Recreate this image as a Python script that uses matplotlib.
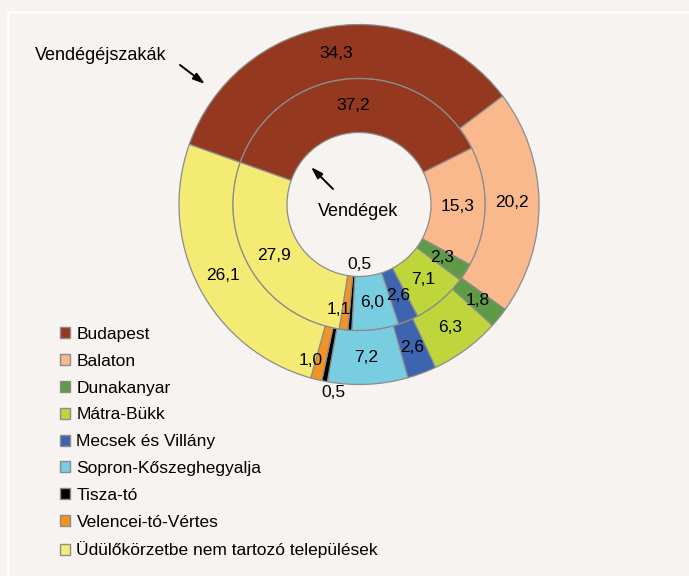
import matplotlib
matplotlib.use('Agg')
import matplotlib.pyplot as plt
from matplotlib.patches import Rectangle, Patch
import numpy as np

plt.rcParams['font.family'] = ['Liberation Sans', 'DejaVu Sans']

regions = ['Budapest', 'Balaton', 'Dunakanyar', 'Mátra-Bükk', 'Mecsek és Villány',
           'Sopron-Kőszeghegyalja', 'Tisza-tó', 'Velencei-tó-Vértes',
           'Üdülőkörzetbe nem tartozó települések']
nights = [34.3, 20.2, 1.8, 6.3, 2.6, 7.2, 0.5, 1.0, 26.1]   # Vendégéjszakák (outer)
guests = [37.2, 15.3, 2.3, 7.1, 2.6, 6.0, 0.5, 1.1, 27.9]   # Vendégek (inner)
colors = ['#953820', '#FAB98C', '#5F9B46', '#BED63C', '#3C64AF',
          '#78CDE1', '#000000', '#F39324', '#F3EB73']

BG = '#F6F3F0'
W, H = 689, 576
fig = plt.figure(figsize=(6.89, 5.76), dpi=100)
fig.patch.set_facecolor(BG)
ax = fig.add_axes([0, 0, 1, 1])

cx, cy = 359, H - 204.5
R_out, R_mid, R_in = 180, 126, 72
START = 160.5
wp = dict(edgecolor='#8c8c8c', linewidth=0.9)
ax.pie(nights, radius=R_out, center=(cx, cy), startangle=START, counterclock=False,
       colors=colors, wedgeprops=dict(width=R_out - R_mid, **wp))
ax.pie(guests, radius=R_mid, center=(cx, cy), startangle=START, counterclock=False,
       colors=colors, wedgeprops=dict(width=R_mid - R_in, **wp))
ax.set_xlim(0, W)
ax.set_ylim(0, H)
ax.set_axis_off()

FS = 12.5

def add_labels(vals, r_lab, overrides):
    cum = np.cumsum([0] + vals)
    for i, v in enumerate(vals):
        mid = (cum[i] + cum[i + 1]) / 2
        ang = np.deg2rad(START - 360 * mid / 100)
        r, dx, dy = overrides.get(i, (r_lab, 0, 0))
        x = cx + r * np.cos(ang) + dx
        y = cy + r * np.sin(ang) + dy
        ax.text(x, y, f'{v:.1f}'.replace('.', ','), ha='center', va='center',
                fontsize=FS, color='black', zorder=5)

add_labels(nights, (R_out + R_mid) / 2, {6: (190, 11, -2), 7: (153, -12, -7)})
add_labels(guests, (R_mid + R_in) / 2, {6: (60, 5, 0), 7: (99, -8, -7)})

ax.text(35, H - 55, 'Vendégéjszakák', ha='left', va='center', fontsize=13)
ax.text(358, H - 212, 'Vendégek', ha='center', va='center', fontsize=13)

ap = dict(arrowstyle='-|>,head_length=0.7,head_width=0.22', color='black', lw=1.4,
          shrinkA=0, shrinkB=0)
ax.annotate('', xy=(205, H - 84), xytext=(180, H - 65), arrowprops=ap)
ax.annotate('', xy=(311, H - 167), xytext=(333, H - 189), arrowprops=ap)

handles = [Patch(facecolor=c, edgecolor='#8c8c8c', linewidth=1) for c in colors]
leg = ax.legend(handles, regions, loc='upper left', bbox_to_anchor=(60, H - 327),
                bbox_transform=ax.transData, frameon=False, fontsize=FS,
                handlelength=0.6, handleheight=0.6, handletextpad=0.35,
                labelspacing=0.68, borderpad=0, borderaxespad=0)

ax.add_patch(Rectangle((8, -20), 720, H - 12 + 20, fill=False, edgecolor='white',
                       lw=1.8, clip_on=False, zorder=0))

fig.savefig('out.png', dpi=100, facecolor=BG)
